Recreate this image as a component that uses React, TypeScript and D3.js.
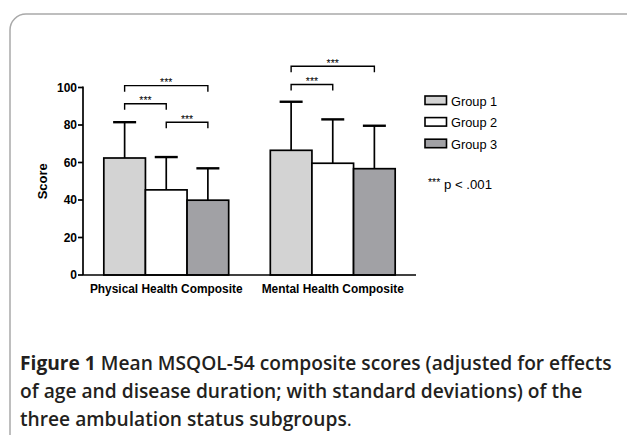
import React from "react";
import * as d3 from "d3";

const categories = ["Physical Health Composite", "Mental Health Composite"];
const groups = ["Group 1", "Group 2", "Group 3"];
const group1Means = [62.4, 66.5];
const group2Means = [45.4, 59.6];
const group3Means = [39.9, 56.7];
const group1SD = [19.1, 25.9];
const group2SD = [17.5, 23.4];
const group3SD = [17.0, 22.9];
const yTicks = [0, 20, 40, 60, 80, 100];
// significance brackets: category index, from group, to group, bracket level
const bracketCats = [0, 0, 0, 1, 1];
const bracketFrom = [0, 0, 1, 0, 0];
const bracketTo = [2, 1, 2, 2, 1];
const bracketLevel = [101, 91.3, 81.5, 111.3, 101.6];

const fills = ["#d3d3d3", "#ffffff", "#a1a1a5"];
const chartFont = "'Liberation Sans', Arial, sans-serif";
const capFont = "'Open Sans', sans-serif";

const App = () => {
  const W = 627;
  const H = 435;
  const axisX = 83;
  const axisRight = 416;

  const means = [group1Means, group2Means, group3Means];
  const sds = [group1SD, group2SD, group3SD];

  const y = d3.scaleLinear().domain([0, 100]).range([275, 87.5]);
  const x0 = d3
    .scaleBand()
    .domain(categories)
    .range([axisX, axisRight])
    .paddingInner(0.25)
    .paddingOuter(0.125);
  const x1 = d3.scaleBand().domain(groups).range([0, x0.bandwidth()]);
  const cx = (ci, gi) => x0(categories[ci]) + x1(groups[gi]) + x1.bandwidth() / 2;

  return (
    <div style={{ position: "absolute", left: 0, top: 0 }}>
      <svg width={W} height={H} style={{ display: "block" }}>
        <rect x={0} y={0} width={W} height={H} fill="#fff" />
        <rect x={10} y={14} width={660} height={470} rx={16} fill="none" stroke="#a9a9a9" strokeWidth={1.5} />

        {/* error bars drawn first so bars cover the lower half */}
        {categories.map((c, ci) =>
          groups.map((g, gi) => {
            const xc = cx(ci, gi);
            const top = y(means[gi][ci] + sds[gi][ci]);
            return (
              <g key={"e" + c + g} stroke="#000" strokeWidth={1.7}>
                <line x1={xc} x2={xc} y1={top} y2={y(means[gi][ci])} />
                <line x1={xc - 11.5} x2={xc + 11.5} y1={top} y2={top} strokeWidth={2.4} />
              </g>
            );
          })
        )}

        {categories.map((c, ci) =>
          groups.map((g, gi) => (
            <rect
              key={c + g}
              x={x0(c) + x1(g)}
              y={y(means[gi][ci])}
              width={x1.bandwidth()}
              height={y(0) - y(means[gi][ci])}
              fill={fills[gi]}
              stroke="#000"
              strokeWidth={1.7}
            />
          ))
        )}

        {/* axes */}
        <line x1={axisX} x2={axisX} y1={y(100) - 1} y2={y(0)} stroke="#000" strokeWidth={1.7} />
        <line x1={axisX} x2={axisRight} y1={y(0)} y2={y(0)} stroke="#000" strokeWidth={1.7} />
        {yTicks.map((t) => (
          <g key={t}>
            <line x1={axisX - 5} x2={axisX} y1={y(t)} y2={y(t)} stroke="#000" strokeWidth={1.7} />
            <text
              x={axisX - 6}
              y={y(t) + 4.3}
              textAnchor="end"
              fontFamily={chartFont}
              fontWeight="bold"
              fontSize={12}
            >
              {t}
            </text>
          </g>
        ))}
        <text
          transform={`translate(47,${y(50)}) rotate(-90)`}
          textAnchor="middle"
          fontFamily={chartFont}
          fontWeight="bold"
          fontSize={13}
        >
          Score
        </text>

        {categories.map((c) => (
          <text
            key={c}
            x={x0(c) + x0.bandwidth() / 2}
            y={293}
            textAnchor="middle"
            fontFamily={chartFont}
            fontWeight="bold"
            fontSize={11.9}
          >
            {c}
          </text>
        ))}

        {/* significance brackets */}
        {bracketCats.map((ci, i) => {
          const xa = cx(ci, bracketFrom[i]);
          const xb = cx(ci, bracketTo[i]);
          const yb = y(bracketLevel[i]);
          return (
            <g key={"b" + i}>
              <path
                d={`M${xa},${yb + 6}V${yb}H${xb}V${yb + 6}`}
                fill="none"
                stroke="#000"
                strokeWidth={1.4}
              />
              <text x={(xa + xb) / 2} y={yb + 0.5} textAnchor="middle" fontFamily={chartFont} fontSize={10.5}>
                ***
              </text>
            </g>
          );
        })}

        {/* legend */}
        {groups.map((g, gi) => (
          <g key={"l" + g} transform={`translate(425,${96 + gi * 21.6})`}>
            <rect x={0} y={0} width={21.5} height={8.5} fill={fills[gi]} stroke="#000" strokeWidth={1.6} />
            <text x={26} y={9.8} fontFamily={chartFont} fontSize={12.8}>
              {g}
            </text>
          </g>
        ))}
        <text x={428} y={188.5} fontFamily={chartFont} fontSize={13.2}>
          <tspan fontSize={10.5} dy={-3}>***</tspan>
          <tspan dy={3}> p &lt; .001</tspan>
        </text>

        {/* caption */}
        <text x={20} y={370} fontFamily={capFont} fontSize={19.2} fontWeight={600} fill="#231f20">
          <tspan fontWeight={700}>Figure 1</tspan> Mean MSQOL-54 composite scores (adjusted for effects
        </text>
        <text x={20} y={398} fontFamily={capFont} fontSize={19.2} fontWeight={600} fill="#231f20">
          of age and disease duration; with standard deviations) of the
        </text>
        <text x={20} y={426} fontFamily={capFont} fontSize={19.2} fontWeight={600} fill="#231f20">
          three ambulation status subgroups<tspan fontWeight={400}>.</tspan>
        </text>
      </svg>
    </div>
  );
};

export default App;
